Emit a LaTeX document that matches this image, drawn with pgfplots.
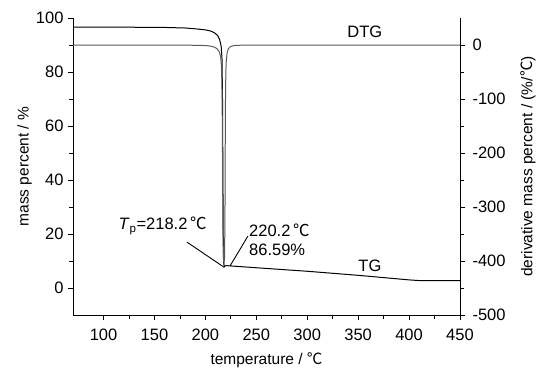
\documentclass[border=0pt]{standalone}
\usepackage{pgfplots}
\pgfplotsset{compat=1.18}
\usepackage{fontspec}
\setmainfont{Liberation Sans}
\newfontfamily\cjk{Noto Sans CJK SC}
\newcommand\dc{{\cjk ℃}}
\begin{document}
\begin{tikzpicture}
\pgfplotsset{
  common/.style={scale only axis, width=387pt, height=297pt,
    xmin=70, xmax=450,
    tick align=outside, major tick length=5pt, minor tick length=4pt,
    tick style={black, line width=0.8pt},
    axis line style={-, line width=0.8pt},
    tick label style={font=\fontsize{16.5}{16.5}\selectfont},
    label style={font=\fontsize{15.5}{16}\selectfont},
    /pgf/number format/assume math mode=true,
  }
}
\begin{axis}[common, name=ax,
  ymin=-10, ymax=100,
  axis x line*=bottom, axis y line*=left,
  xtick={100,150,...,450}, ytick={0,20,...,100},
  minor x tick num=1, minor y tick num=1,
  xticklabel style={yshift=-5pt},
  yticklabel style={xshift=-1pt},
  xlabel={temperature / \dc},
  ylabel={mass percent / \%},
  xlabel style={at={(axis description cs:0.5,-0.152)}, anchor=center},
  ylabel style={at={(axis description cs:-0.125,0.5)}, anchor=center},
  clip=false]
\addplot[black, line width=1pt] coordinates {
(70,96.6) (120,96.6) (160,96.5) (180,96.3) (190,96.0) (200,95.6) (205,95.2)
(209,94.5) (212,93.5) (214,92) (215.5,89.5) (216.3,85) (216.8,70) (217.2,40)
(217.6,15) (218,9) (218.6,8) (220.2,8.3) (224,8.2) (250,7.5) (300,6.2)
(350,4.7) (400,3.0) (410,2.75) (450,2.7)};
\draw[black, line width=0.9pt] (axis cs:181.9,17.0) -- (axis cs:218.7,7.6);
\draw[black, line width=0.9pt] (axis cs:241.7,19.2) -- (axis cs:224.1,8.1);
\node[font=\fontsize{16.5}{16.5}\selectfont] at (axis cs:158,23) {\textit{T}\textsubscript{p}=218.2\,\dc};
\node[font=\fontsize{16.5}{19}\selectfont, anchor=west, align=left] at (axis cs:239.5,17.7) {220.2\,\dc\\86.59\%};
\node[font=\fontsize{16.5}{16.5}\selectfont] at (axis cs:361.5,8.3) {TG};
\node[font=\fontsize{16.5}{16.5}\selectfont] at (axis cs:356.5,94.8) {DTG};
\end{axis}
\begin{axis}[common,
  ymin=-500, ymax=50,
  axis x line=none, axis y line*=right,
  ytick={-500,-400,...,0}, minor y tick num=1,
  yticklabel style={xshift=4pt},
  ylabel={derivative mass percent / (\%/\dc)},
  ylabel style={at={(axis description cs:1.176,0.5)}, anchor=center}]
\addplot[black!65, line width=1pt] coordinates {
(70,0) (150,0) (190,-0.5) (200,-1) (205,-2) (209,-4) (211.5,-7) (213.5,-12)
(215,-22) (215.8,-40) (216.4,-90) (216.8,-200) (217.2,-330) (217.7,-395) (218.2,-405)
(218.8,-395) (219.2,-320) (219.5,-180) (219.8,-80) (220.3,-35) (221.2,-16)
(222.5,-7) (224.5,-3) (228,-1) (240,0) (450,0)};
\end{axis}
\path[use as bounding box] ([xshift=-73pt,yshift=-52pt]ax.south west) rectangle ([xshift=82pt,yshift=18pt]ax.north east);
\end{tikzpicture}
\end{document}
